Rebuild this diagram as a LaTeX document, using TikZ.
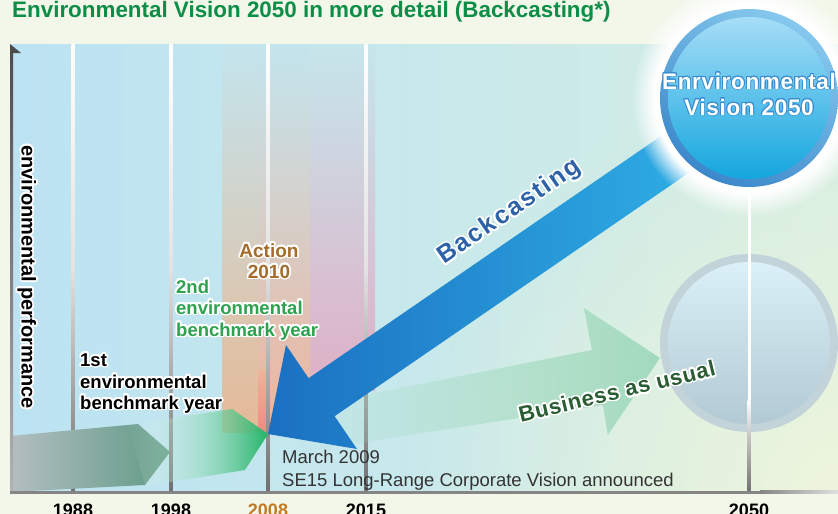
\documentclass[tikz,border=0pt]{standalone}
\usepackage{fontspec}
\setmainfont{Liberation Sans}
\usepackage{contour}
\contourlength{1.6pt}
\contournumber{24}
\usetikzlibrary{fadings}
\definecolor{bgout}{HTML}{F2F7EA}
\definecolor{bgL}{HTML}{BCE3F3}
\definecolor{bgR}{HTML}{D4EEE3}
\definecolor{cream}{HTML}{EEF5DC}
\definecolor{titlegreen}{HTML}{0E8D47}
\definecolor{gridgray}{HTML}{707070}
\definecolor{bandtopA}{HTML}{C3E5EE}
\definecolor{bandtopC}{HTML}{C6E6EC}
\definecolor{bandmidA}{HTML}{CCD9D0}
\definecolor{bandmidB}{HTML}{D3D3CF}
\definecolor{bandmidC}{HTML}{CFD2DA}
\definecolor{orangeband}{HTML}{E6B996}
\definecolor{peachband}{HTML}{EEB39B}
\definecolor{pinkband}{HTML}{DFAFC5}
\definecolor{redband}{HTML}{F28A80}
\definecolor{grayL}{HTML}{B4BEC2}
\definecolor{grayR}{HTML}{5E9A84}
\definecolor{brightgreen}{HTML}{22B468}
\definecolor{baugreen}{HTML}{A2DABE}
\definecolor{blueD}{HTML}{1B70C1}
\definecolor{blueM}{HTML}{2792D8}
\definecolor{blueL}{HTML}{30B2E7}
\definecolor{ringA}{HTML}{86C8EE}
\definecolor{ringB}{HTML}{3C88CB}
\definecolor{innA}{HTML}{A6DDF7}
\definecolor{innB}{HTML}{14A6DF}
\definecolor{ring2}{HTML}{C3D3DA}
\definecolor{inn2A}{HTML}{DBF0F8}
\definecolor{inn2B}{HTML}{B2CAD4}
\definecolor{actioncol}{HTML}{A46D2C}
\definecolor{secondgreen}{HTML}{2EA24F}
\definecolor{yearorange}{HTML}{C27B1F}
\definecolor{backblue}{HTML}{2D62A8}
\definecolor{baudark}{HTML}{2B5C33}
\definecolor{marchgray}{HTML}{333333}
\definecolor{circtextblue}{HTML}{3A8ED0}
\tikzfading[name=fadeR, left color=transparent!100, right color=transparent!0]
\tikzfading[name=fadeBAU, left color=transparent!100, middle color=transparent!20, right color=transparent!0]
\tikzfading[name=fadeRad, inner color=transparent!0, outer color=transparent!100]
\begin{document}
\begin{tikzpicture}[x=1pt,y=-1pt,
  lbl/.style={inner sep=0pt, anchor=base west, font=\fontsize{18.5}{20}\selectfont\bfseries},
  year/.style={inner sep=0pt, anchor=base, font=\fontsize{18}{20}\selectfont\bfseries},
  march/.style={inner sep=0pt, anchor=base west, text=marchgray, font=\fontsize{18.5}{20}\selectfont},
  gridline/.style={top color=white, bottom color=gridgray, middle color=white!80!gridgray}]
\useasboundingbox (0,0) rectangle (838,514);
% background
\fill[bgout] (0,0) rectangle (838,514);
\shade[left color=bgL, right color=bgR] (10,44) rectangle (838,492);
\begin{scope}
\clip (10,44) rectangle (838,492);
\fill[cream, path fading=fadeRad] (838,492) circle (420);
\end{scope}
% action bands
\shade[top color=bandtopA, middle color=bandmidA, bottom color=orangeband] (222,44) rectangle (258,432);
\shade[top color=bandtopA, middle color=bandmidB, bottom color=peachband] (258,44) rectangle (310,432);
\shade[top color=bandtopC, middle color=bandmidC, bottom color=pinkband] (310,44) rectangle (375,390);
\shade[top color=peachband, bottom color=redband] (258,370) rectangle (268,432);
% grid lines
\foreach \gx/\gn in {73/g1988,171/g1998,268/g2008,366/g2015}{
  \shade[gridline] (\gx-1.5,44) rectangle (\gx+1.5,492);
  \coordinate (\gn) at (\gx,492);
}
% gray arrow
\shade[left color=grayL, right color=grayR] (10,436) -- (138,424) -- (170,452) -- (145,485) -- (10,492) -- cycle;
% green arrow
\shade[left color=white, right color=brightgreen, path fading=fadeR] (128,425) -- (232,409) -- (268,434) -- (245,470) -- (145,486) -- cycle;
% business as usual arrow
\fill[baugreen, path fading=fadeBAU] (300,408) -- (592,350) -- (584,308) -- (660,358) -- (608,435) -- (603,405) -- (300,452) -- cycle;
% circle 2
\fill[ring2] (749,343) circle (89);
\shade[top color=inn2A, bottom color=inn2B, middle color=inn2A!50!inn2B] (749,343) circle (81);
% 2050 line
\fill[white] (747.5,188) rectangle (750.5,400);
\shade[top color=white, bottom color=gridgray] (747.5,400) rectangle (750.5,492);
% blue arrow
\shade[left color=blueD, middle color=blueM, right color=blueL] (268,434) -- (286,345) -- (308.6,378.2) -- (704,106.5) -- (730,144.5) -- (334.6,416.2) -- (357,449) -- cycle;
% glow
\fill[white, path fading=circle with fuzzy edge 20 percent] (749,98) circle (118);
% circle 1
\shade[top color=ringA, bottom color=ringB, shading angle=-30] (749,98) circle (89);
\shade[top color=innA, bottom color=innB, middle color=innA!50!innB] (749,98) circle (81);
% axes
\shade[top color=black!70, bottom color=black!30] (10,52) rectangle (13,492);
\fill[black!70] (10,44) -- (21,53) -- (10,53) -- cycle;
\fill[black!48] (10,490.5) rectangle (760,493.5);
\shade[left color=black!48, right color=black!12] (760,490.5) rectangle (838,493.5);
% texts
\node[inner sep=0pt, anchor=base west, text=titlegreen, font=\fontsize{22.4}{26}\selectfont\bfseries] (title) at (12,17) {Environmental Vision 2050 in more detail (Backcasting*)};
\node[inner sep=0pt, rotate=-90, font=\fontsize{20}{22}\selectfont\bfseries] (yaxis) at (26,277) {\contour{white}{environmental performance}};
\node[inner sep=0pt, anchor=base, text=actioncol, font=\fontsize{19}{20}\selectfont\bfseries] (action1) at (269,257) {\contour{white}{Action}};
\node[inner sep=0pt, anchor=base, text=actioncol, font=\fontsize{19}{20}\selectfont\bfseries] (action2) at (269,278) {\contour{white}{2010}};
\node[lbl, text=secondgreen] (sec1) at (176,293) {\contour{white}{2nd}};
\node[lbl, text=secondgreen] (sec2) at (176,314) {\contour{white}{environmental}};
\node[lbl, text=secondgreen] (sec3) at (176,336) {\contour{white}{benchmark year}};
\node[lbl] (fst1) at (80,366) {\contour{white}{1st}};
\node[lbl] (fst2) at (80,388) {\contour{white}{environmental}};
\node[lbl] (fst3) at (80,409) {\contour{white}{benchmark year}};
\node[march] (march1) at (282,463) {March 2009};
\node[march] (march2) at (282,486) {SE15 Long-Range Corporate Vision announced};
\node[inner sep=0pt, rotate=34.5, text=backblue, font=\fontsize{25}{28}\selectfont\bfseries\addfontfeature{LetterSpace=8}] (back) at (510,213) {\contour{white}{Backcasting}};
\node[inner sep=0pt, rotate=13.5, text=baudark, font=\fontsize{22}{24}\selectfont\bfseries\addfontfeature{LetterSpace=3}] (bau) at (617,392) {\contour{white}{Business as usual}};
\begingroup\contourlength{0.8pt}
\node[inner sep=0pt, anchor=base, text=white, font=\fontsize{22.5}{24}\selectfont\bfseries\addfontfeature{LetterSpace=3}] (vis1) at (749,89) {\contour{circtextblue}{Enrvironmental}};
\node[inner sep=0pt, anchor=base, text=white, font=\fontsize{22.5}{24}\selectfont\bfseries\addfontfeature{LetterSpace=3}] (vis2) at (749,115) {\contour{circtextblue}{Vision 2050}};
\endgroup
\node[year] (y1988) at (73,516) {1988};
\node[year] (y1998) at (171,516) {1998};
\node[year, text=yearorange] (y2008) at (268,516) {2008};
\node[year] (y2015) at (366,516) {2015};
\node[year] (y2050) at (749,516) {2050};
\end{tikzpicture}
\end{document}
